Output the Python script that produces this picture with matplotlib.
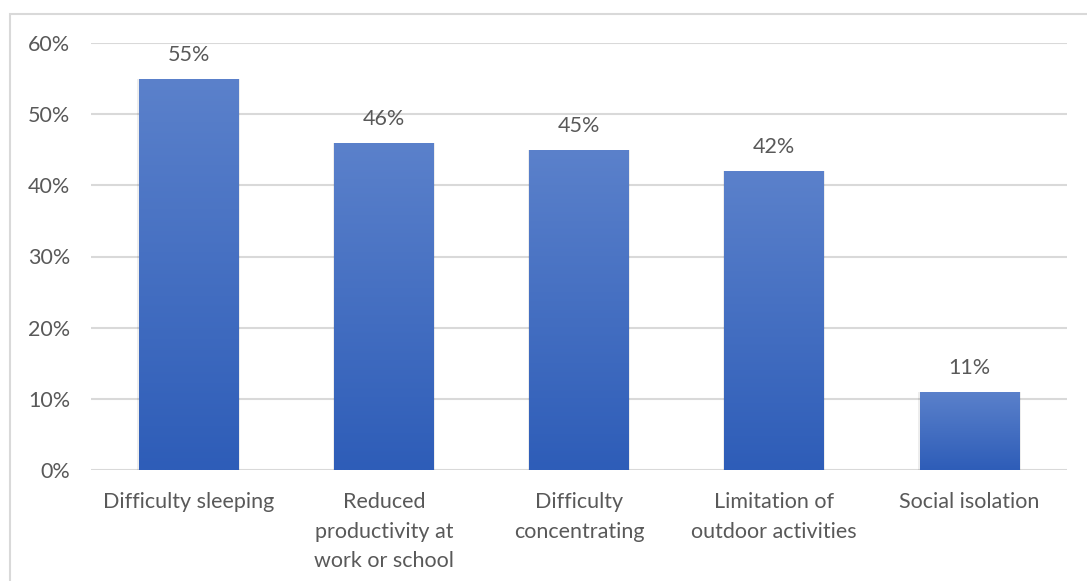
import numpy as np
import matplotlib.pyplot as plt
from matplotlib.colors import LinearSegmentedColormap
from matplotlib.patches import Rectangle

# data
categories = ["Difficulty sleeping", "Reduced\nproductivity at\nwork or school",
              "Difficulty\nconcentrating", "Limitation of\noutdoor activities",
              "Social isolation"]
values = [0.55, 0.46, 0.45, 0.42, 0.11]
yticks = [0, 0.1, 0.2, 0.3, 0.4, 0.5, 0.6]

plt.rcParams['font.family'] = ['Lato', 'DejaVu Sans']
text_col = '#595959'
fs = 15.5

W, H = 1087, 581
fig = plt.figure(figsize=(W / 100, H / 100), dpi=100)
fig.patch.set_facecolor('white')

# outer chart border (cut off at right and bottom like the screenshot)
fig.patches.append(Rectangle((10 / W, -0.1), 1.2, 1 - 14 / H + 0.1,
                             transform=fig.transFigure, fill=False,
                             edgecolor='#D9D9D9', linewidth=1.5))

ax = fig.add_axes([91 / W, 1 - 470 / H, (1067 - 91) / W, (470 - 43) / H])

cmap = LinearSegmentedColormap.from_list('grad', ['#2E5DB8', '#5B81CB'])
grad = np.linspace(0, 1, 256).reshape(-1, 1)

x = np.arange(len(categories))
bars = ax.bar(x, values, width=0.51, color='none', edgecolor='none', zorder=3)
for b, v in zip(bars, values):
    # faint side shadow
    ax.add_patch(Rectangle((b.get_x() - 0.007, 0), b.get_width() + 0.014, v,
                           facecolor='#000000', alpha=0.07, edgecolor='none', zorder=2))
    im = ax.imshow(grad, cmap=cmap, origin='lower', aspect='auto', zorder=3,
                   extent=[b.get_x(), b.get_x() + b.get_width(), 0, v])
    im.set_clip_path(b)
    ax.annotate(f"{round(v * 100)}%", (b.get_x() + b.get_width() / 2, v),
                xytext=(0, 10), textcoords='offset points', ha='center', va='bottom',
                fontsize=fs, color=text_col)

ax.set_xlim(-0.5, len(categories) - 0.5)
ax.set_ylim(0, 0.6)
ax.set_yticks(yticks)
ax.set_yticklabels([f"{int(t * 100)}%" for t in yticks], fontsize=fs, color=text_col)
ax.set_xticks(x)
ax.set_xticklabels(categories, fontsize=fs, color=text_col, linespacing=1.6, va='top')
ax.tick_params(length=0)
ax.tick_params(axis='y', pad=15)
ax.tick_params(axis='x', pad=16)
ax.grid(axis='y', color='#D9D9D9', linewidth=1.5, zorder=0)
ax.set_axisbelow(True)
for s in ax.spines.values():
    s.set_visible(False)

fig.savefig('out.png', dpi=100)
